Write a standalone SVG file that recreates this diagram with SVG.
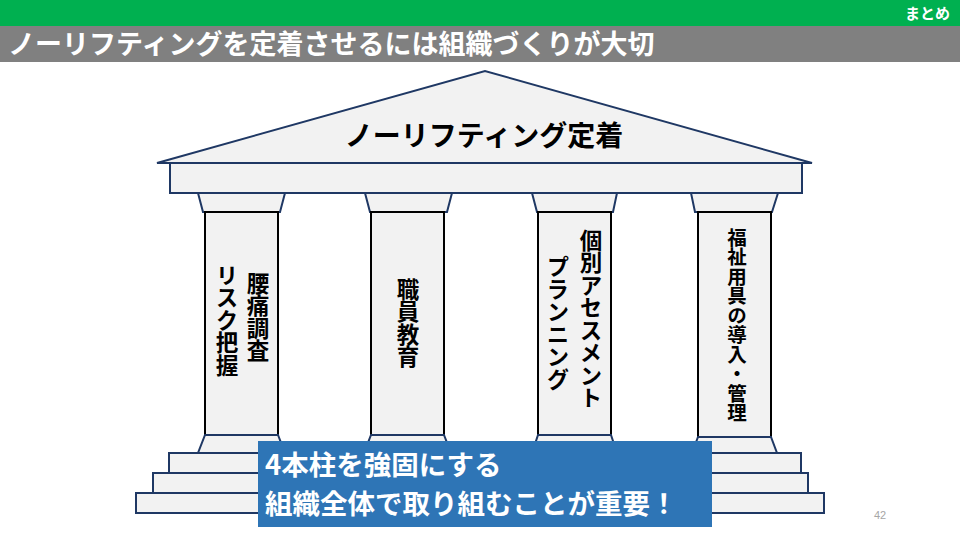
<svg xmlns="http://www.w3.org/2000/svg" width="960" height="540" viewBox="0 0 960 540">
<style>
.jp{font-family:"Noto Sans CJK JP","Noto Sans",sans-serif;font-weight:bold}
.part{fill:#F2F2F2;stroke:#1F3864;stroke-width:2;stroke-linejoin:miter}
.shaft{fill:#F2F2F2;stroke:#000;stroke-width:2}
.vt{writing-mode:vertical-rl;font-size:22.5px;fill:#000;text-anchor:middle}
.wt{fill:#fff}
</style>
<rect x="0" y="0" width="960" height="26" fill="#00B050"/>
<text class="jp wt" x="950" y="19" font-size="15" text-anchor="end">まとめ</text>
<rect x="0" y="26" width="960" height="36" fill="#808080"/>
<text class="jp wt" x="8" y="54" font-size="27">ノーリフティングを定着させるには組織づくりが大切</text>

<g id="roof">
<polygon class="part" points="157,163 485,71 812,163"/>
<text class="jp" x="484" y="146" font-size="28" text-anchor="middle" fill="#000">ノーリフティング定着</text>
</g>
<g id="entablature">
<rect class="part" x="170" y="163" width="632" height="30"/>
</g>

<g id="steps">
<rect class="part" x="136" y="493" width="688" height="20"/>
<rect class="part" x="153" y="473" width="655" height="20"/>
<rect class="part" x="169" y="453" width="632" height="20"/>
</g>

<g id="pillar1">
<polygon class="part" points="198,193 285,193 280,212 203,212"/>
<rect class="shaft" x="205" y="212" width="73" height="223"/>
<polygon class="part" points="205,435 278,435 285,453 198,453"/>
<text class="jp vt" x="258" y="317">腰痛調査</text>
<text class="jp vt" x="227" y="320">リスク把握</text>
</g>

<g id="pillar2">
<polygon class="part" points="365,193 452,193 447,212 370,212"/>
<rect class="shaft" x="371" y="212" width="73" height="223"/>
<polygon class="part" points="371,435 444,435 451,453 364,453"/>
<text class="jp vt" x="408" y="323">職員教育</text>
</g>

<g id="pillar3">
<polygon class="part" points="532,193 617,193 613,212 537,212"/>
<rect class="shaft" x="538" y="212" width="73" height="223"/>
<polygon class="part" points="538,435 611,435 617,453 532,453"/>
<text class="jp vt" x="591" y="319">個別アセスメント</text>
<text class="jp vt" x="558" y="323">プランニング</text>
</g>

<g id="pillar4">
<polygon class="part" points="691,193 778,193 772,212 695,212"/>
<rect class="shaft" x="698" y="212" width="73" height="225"/>
<polygon class="part" points="698,437 771,437 777,453 692,453"/>
<text class="jp vt" x="737" y="325" style="font-size:19.5px">福祉用具の導入・管理</text>
</g>

<g id="message">
<rect x="258" y="441" width="454" height="86" fill="#2E75B6"/>
<text class="jp wt" x="265" y="475" font-size="27.5">4本柱を強固にする</text>
<text class="jp wt" x="265" y="514" font-size="27.5">組織全体で取り組むことが重要！</text>
</g>

<text x="880" y="519" font-family="Liberation Sans, sans-serif" font-size="11" fill="#A6A6A6" text-anchor="middle">42</text>
</svg>
